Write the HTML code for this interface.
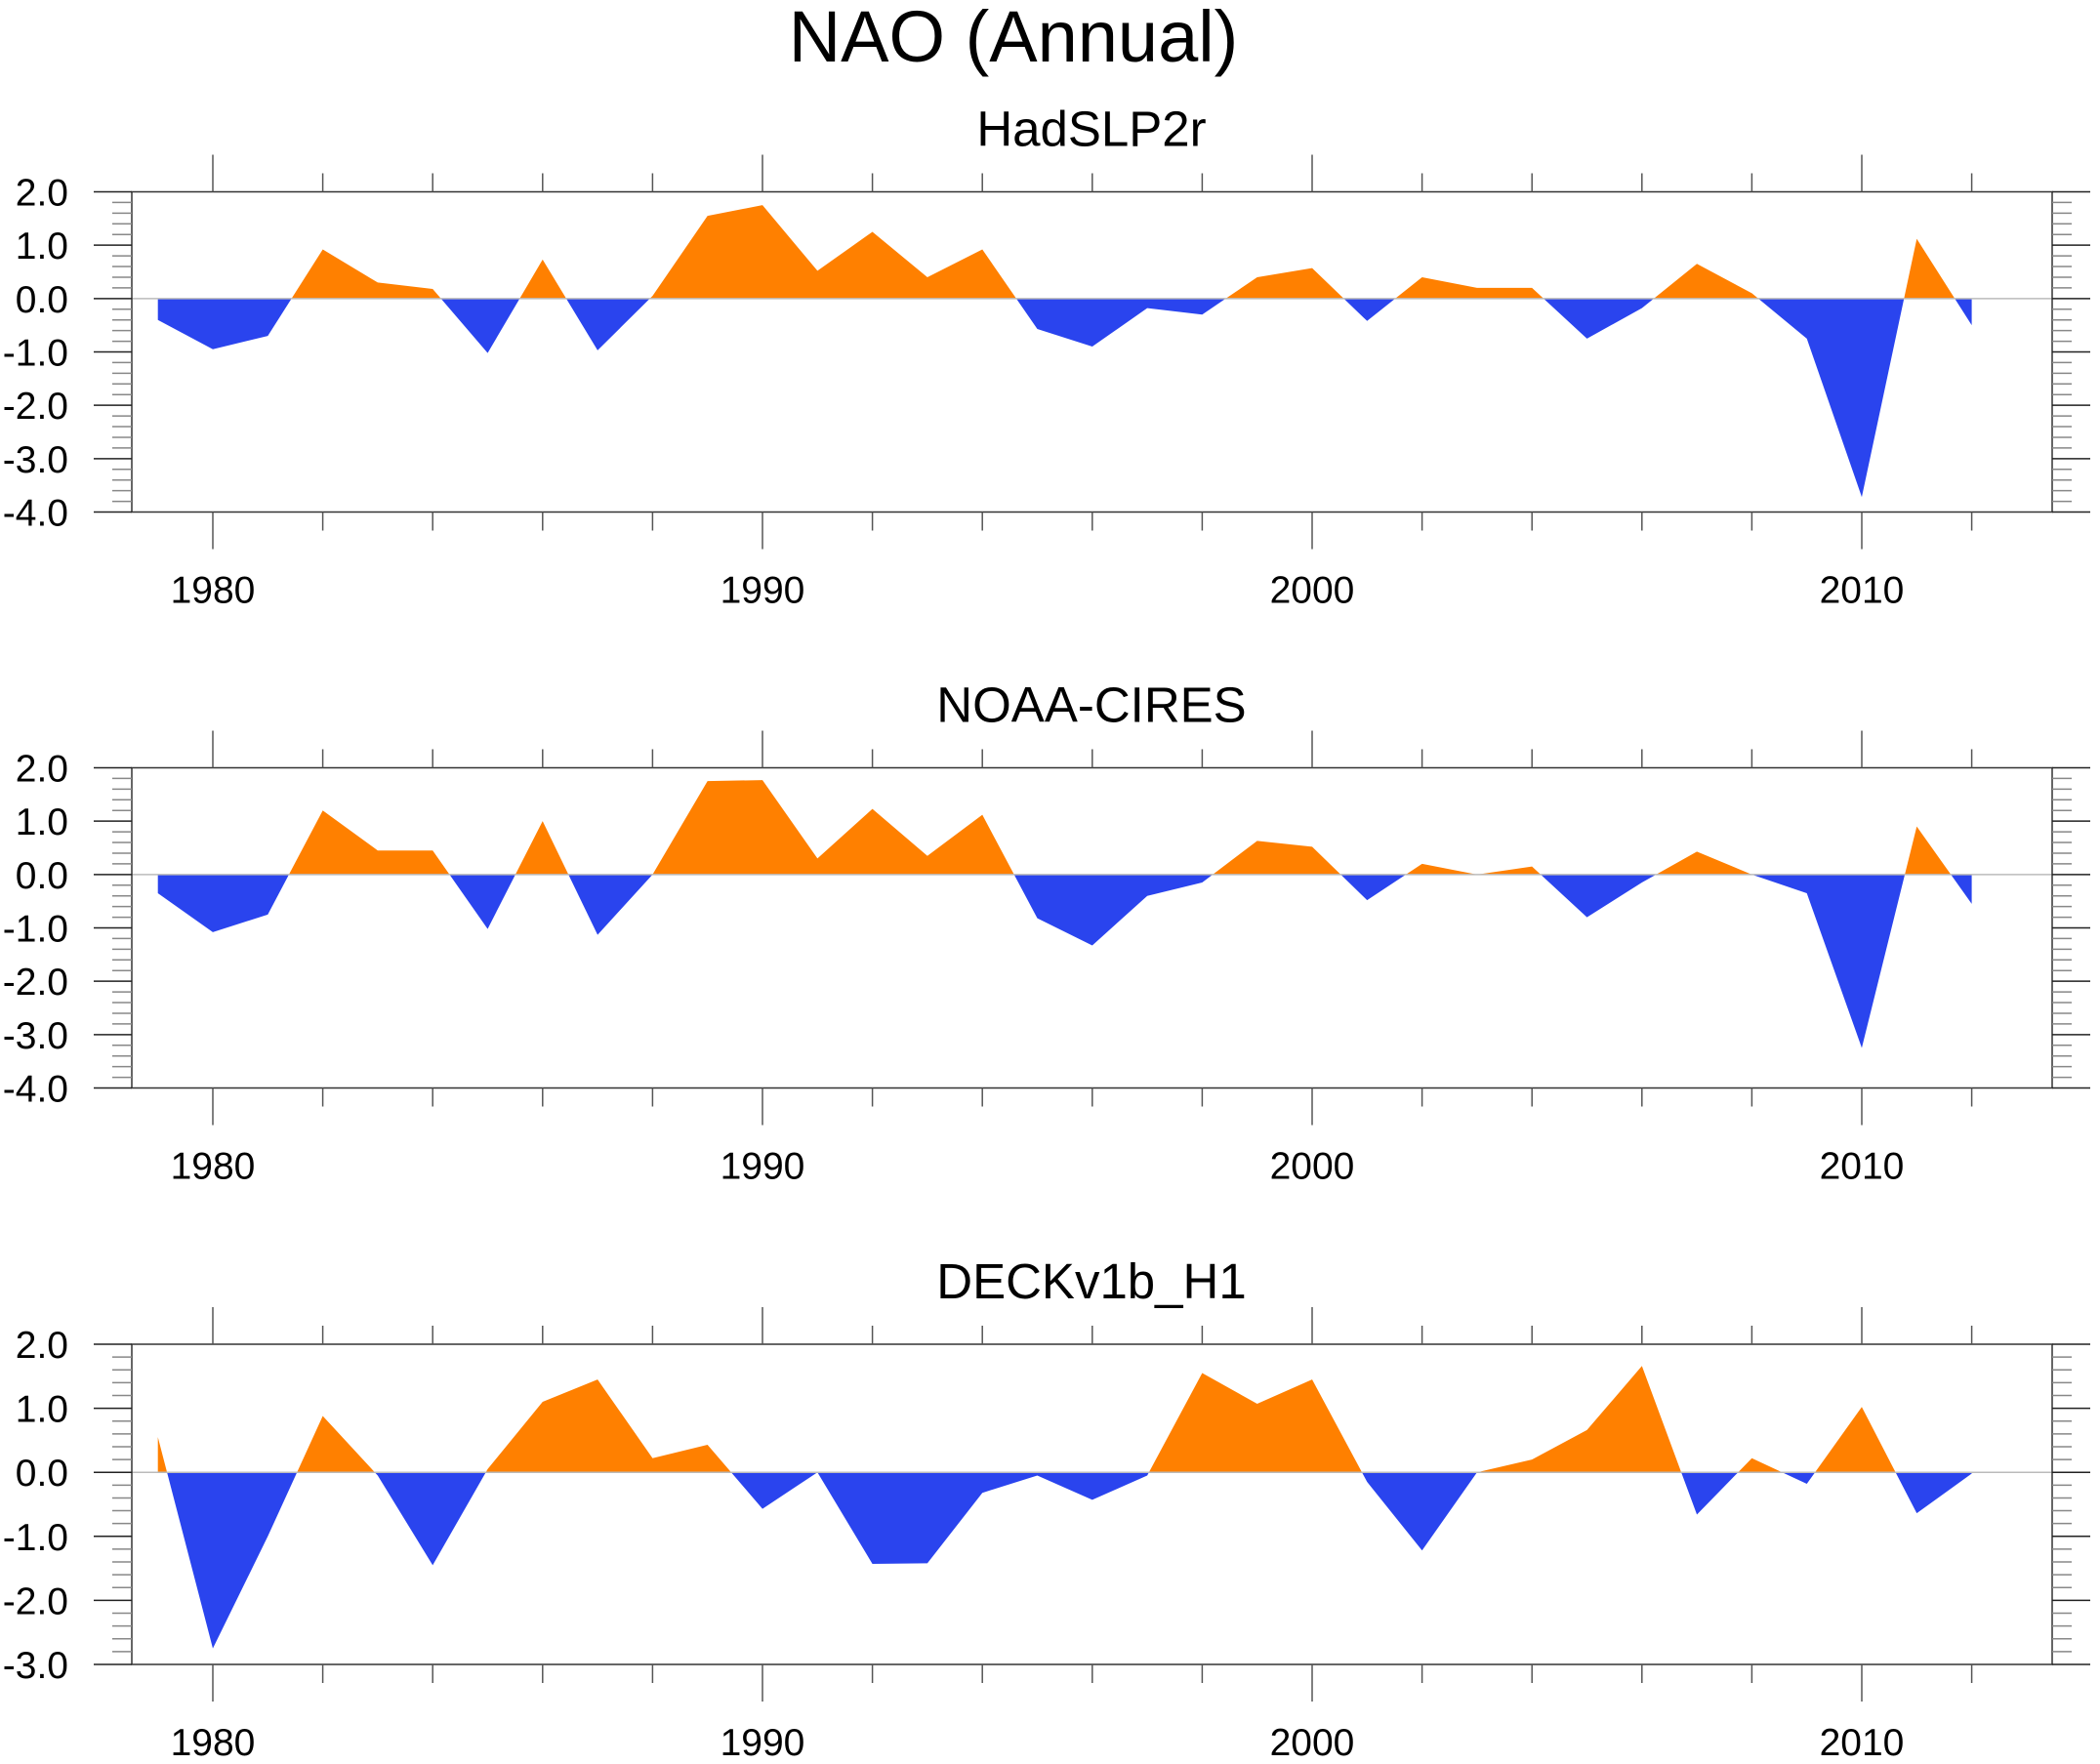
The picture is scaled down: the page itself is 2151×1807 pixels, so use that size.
<!DOCTYPE html>
<html><head><meta charset="utf-8"><style>
html,body{margin:0;padding:0;background:#fff;}
svg{display:block;font-family:"Liberation Sans",Arial,sans-serif;}
</style></head><body>
<svg id="chart" width="2151" height="1807" viewBox="0 0 2151 1807" xmlns="http://www.w3.org/2000/svg">
<text x="1038" y="63" font-size="74" text-anchor="middle">NAO (Annual)</text>
</svg>
<script>
const years = [1979,1980,1981,1982,1983,1984,1985,1986,1987,1988,1989,1990,1991,1992,1993,1994,1995,1996,1997,1998,1999,2000,2001,2002,2003,2004,2005,2006,2007,2008,2009,2010,2011,2012];
const hadslp = [-0.4,-0.95,-0.7,0.92,0.3,0.18,-1.02,0.73,-0.97,0.05,1.55,1.75,0.52,1.25,0.4,0.92,-0.57,-0.9,-0.18,-0.3,0.4,0.57,-0.42,0.4,0.2,0.2,-0.75,-0.18,0.65,0.1,-0.75,-3.72,1.12,-0.5];
const noaa = [-0.35,-1.08,-0.75,1.2,0.45,0.45,-1.02,1.0,-1.13,0.0,1.75,1.77,0.3,1.23,0.35,1.12,-0.82,-1.33,-0.4,-0.15,0.63,0.52,-0.48,0.2,0.0,0.15,-0.8,-0.15,0.43,0.0,-0.35,-3.25,0.9,-0.55];
const deck = [0.55,-2.75,-1.0,0.88,-0.05,-1.45,0.05,1.1,1.45,0.22,0.43,-0.57,0.0,-1.43,-1.42,-0.32,-0.05,-0.43,-0.05,1.55,1.07,1.45,-0.15,-1.22,0.0,0.2,0.66,1.66,-0.66,0.22,-0.18,1.02,-0.64,-0.02];
const panelTitles = ["HadSLP2r","NOAA-CIRES","DECKv1b_H1"];
const yTickLabels1 = ["2.0","1.0","0.0","-1.0","-2.0","-3.0","-4.0"];
const yTickLabels3 = ["2.0","1.0","0.0","-1.0","-2.0","-3.0"];
const xTickLabels = ["1980","1990","2000","2010"];

const NS="http://www.w3.org/2000/svg";
const svg=document.getElementById('chart');
function mk(tag,attrs,parent){const e=document.createElementNS(NS,tag);for(const k in attrs)e.setAttribute(k,attrs[k]);(parent||svg).appendChild(e);return e;}
const L=135,R=2102;
const xs=y=>218+(y-1980)*(1344-218)/20;

function panel(idx,data,top,bottom,ymax,ymin,labels){
  const g=mk('g',{});
  
  
  const ys=v=>top+(ymax-v)*(bottom-top)/(ymax-ymin);
  const t=mk('text',{x:1118,y:top-47,'font-size':51,'text-anchor':'middle'},g);
  t.textContent=panelTitles[idx];
  
  
  const z=ys(0);
  let pts=xs(years[0])+','+z+' ';
  years.forEach((y,i)=>{pts+=xs(y)+','+ys(data[i])+' ';});
  pts+=xs(years[years.length-1])+','+z;
  const cid='c'+idx;
  const d=mk('defs',{},g);
  const c1=mk('clipPath',{id:cid+'a'},d);mk('rect',{x:L,y:top,width:R-L,height:z-top},c1);
  const c2=mk('clipPath',{id:cid+'b'},d);mk('rect',{x:L,y:z,width:R-L,height:bottom-z},c2);
  const pa=mk('polygon',{points:pts,fill:'#ff8000','clip-path':'url(#'+cid+'a)'},g);
  
  
  const pb=mk('polygon',{points:pts,fill:'#2a44ee','clip-path':'url(#'+cid+'b)'},g);
  
  
  const zl=mk('line',{x1:L,x2:R,y1:z,y2:z,stroke:'#bbb','stroke-width':1.5},g);
  
  
  const fr=mk('rect',{x:L,y:top,width:R-L,height:bottom-top,fill:'none',stroke:'#333','stroke-width':1.5},g);
  
  
  for(let yr=1980;yr<=2012;yr+=2){
    const x=xs(yr);const len=(yr%10===0)?38:19;
    mk('line',{x1:x,x2:x,y1:top,y2:top-len,stroke:'#555','stroke-width':1.5},g);
    mk('line',{x1:x,x2:x,y1:bottom,y2:bottom+len,stroke:'#555','stroke-width':1.5},g);
  }
  xTickLabels.forEach(s=>{const tx=mk('text',{x:xs(+s),y:bottom+93,'font-size':39,'text-anchor':'middle'},g);tx.textContent=s;
    
    });
  for(let k=0;k<=Math.round((ymax-ymin)*5);k++){
    const v=ymax-k*0.2;const y=ys(v);const major=(k%5===0);const len=major?39:20;
    mk('line',{x1:L,x2:L-len,y1:y,y2:y,stroke:major?'#222':'#888','stroke-width':1.5},g);
    mk('line',{x1:R,x2:R+len,y1:y,y2:y,stroke:major?'#222':'#888','stroke-width':1.5},g);
  }
  labels.forEach(s=>{const ty=mk('text',{x:70,y:ys(parseFloat(s))+14,'font-size':39,'text-anchor':'end'},g);ty.textContent=s;
    
    });
}
panel(0,hadslp,196.5,524.5,2,-4,yTickLabels1);
panel(1,noaa,786.5,1114.5,2,-4,yTickLabels1);
panel(2,deck,1377,1705,2,-3,yTickLabels3);
</script>
</body></html>
